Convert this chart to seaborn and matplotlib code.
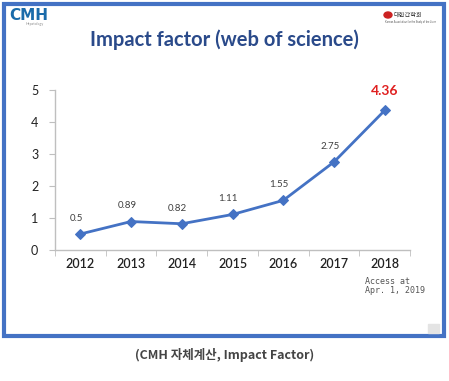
import matplotlib.pyplot as plt
import matplotlib.patches as mpatches
import seaborn as sns
import pandas as pd

# chart data
years = ['2012', '2013', '2014', '2015', '2016', '2017', '2018']
impact = [0.5, 0.89, 0.82, 1.11, 1.55, 2.75, 4.36]
y_ticks = [0, 1, 2, 3, 4, 5]

df = pd.DataFrame({'year': years, 'impact': impact})

sns.set_style('white')
plt.rcParams['font.family'] = ['Lato', 'DejaVu Sans']

fig = plt.figure(figsize=(4.49, 3.81), dpi=100)

# slide frame
frame = mpatches.Rectangle((4 / 449, 1 - 336 / 381), 440 / 449, 332 / 381,
                           transform=fig.transFigure, fill=False,
                           edgecolor='#4472C4', linewidth=3)
fig.patches.append(frame)

ax = fig.add_axes([55 / 449, 1 - 250 / 381, 355 / 449, 160 / 381])
sns.lineplot(data=df, x='year', y='impact', ax=ax, color='#4472C4',
             marker='D', markersize=5, markeredgecolor='#4472C4', linewidth=2)

ax.set_xlim(-0.5, len(years) - 0.5)
ax.set_ylim(0, 5)
ax.set_yticks(y_ticks)
ax.set_xticks(range(len(years)))
ax.set_xticklabels(years, fontweight='semibold')
ax.set_xticks([i - 0.5 for i in range(len(years) + 1)], minor=True)
ax.tick_params(axis='x', which='major', length=0, labelsize=9, pad=6, labelcolor='#222222')
ax.tick_params(axis='x', which='minor', length=4, color='#bfbfbf', direction='out', bottom=True)
ax.tick_params(axis='y', length=4, color='#bfbfbf', direction='out', left=True, labelsize=9,
               pad=8, labelcolor='#222222')
ax.set_xlabel('')
ax.set_ylabel('')
for s in ['top', 'right']:
    ax.spines[s].set_visible(False)
for s in ['left', 'bottom']:
    ax.spines[s].set_color('#bfbfbf')
    ax.spines[s].set_linewidth(1)

# data labels
for i, v in enumerate(impact):
    if i == len(impact) - 1:
        ax.annotate(f'{v:.2f}', (i, v), xytext=(0, 10), textcoords='offset points',
                    ha='center', va='bottom', color='#E02020', fontsize=10, fontweight='bold')
    else:
        ax.annotate(f'{v:g}', (i, v), xytext=(-3, 8), textcoords='offset points',
                    ha='center', va='bottom', color='#404040', fontsize=7)

# title and logos
fig.text(0.5, 1 - 40 / 381, 'Impact factor (web of science)', ha='center', va='center',
         fontsize=14.5, fontweight='bold', color='#2A4A8A')
fig.text(9 / 449, 1 - 15 / 381, 'CMH', ha='left', va='center', fontsize=11,
         fontweight='heavy', color='#1A6BAA', family=['DejaVu Sans'])
fig.text(26 / 449, 1 - 24.5 / 381, 'Hepatology', ha='left', va='center', fontsize=2.5,
         color='#888888')
fig.patches.append(mpatches.Ellipse((388 / 449, 1 - 15 / 381), 8 / 449, 6 / 381,
                                    transform=fig.transFigure, color='#CC2222'))
fig.text(394 / 449, 1 - 15 / 381, '대한간학회', ha='left', va='center', fontsize=4.5,
         color='#333333', family=['Noto Sans CJK KR', 'DejaVu Sans'])
fig.text(385 / 449, 1 - 21.5 / 381, 'Korean Association for the Study of the Liver',
         ha='left', va='center', fontsize=1.9, color='#555555')

fig.text(365 / 449, 1 - 286 / 381, 'Access at\nApr. 1, 2019', ha='left', va='center',
         fontsize=6, color='#555555', family=['DejaVu Sans Mono'], linespacing=0.95)

fig.patches.append(mpatches.Rectangle((428 / 449, 1 - 333 / 381), 11 / 449, 9 / 381,
                                      transform=fig.transFigure, color='#E4E4E4'))

fig.text(0.5, 1 - 355 / 381, '(CMH 자체계산, Impact Factor)', ha='center', va='center',
         fontsize=9, fontweight='bold', color='#444444',
         family=['Noto Sans CJK KR', 'DejaVu Sans'])

fig.savefig('out.png', dpi=100)
